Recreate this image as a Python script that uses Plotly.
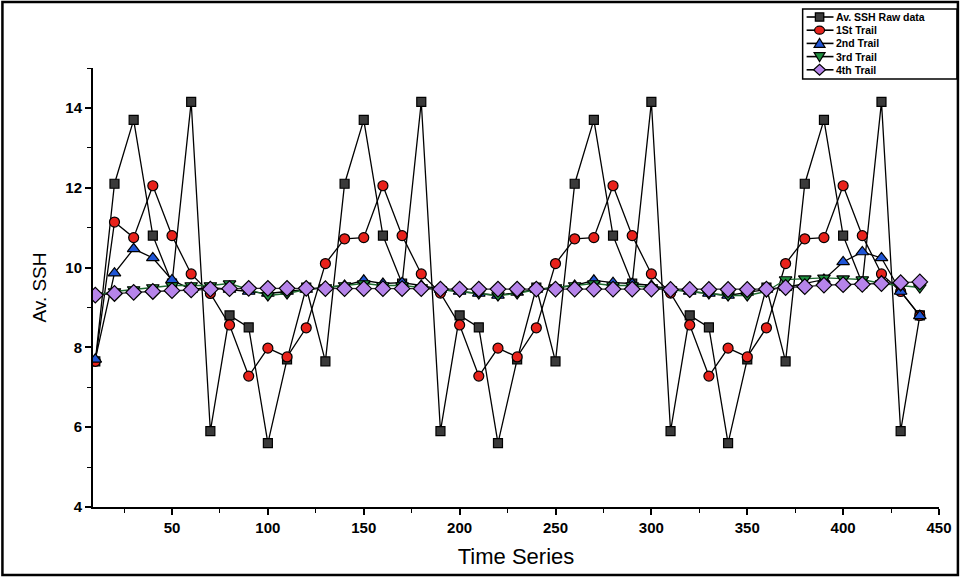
import plotly.graph_objects as go

time_series = [10, 20, 30, 40, 50, 60, 70, 80, 90, 100, 110, 120,
               130, 140, 150, 160, 170, 180, 190, 200, 210, 220, 230, 240,
               250, 260, 270, 280, 290, 300, 310, 320, 330, 340, 350, 360,
               370, 380, 390, 400, 410, 420, 430, 440]

raw_data = [7.65, 12.1, 13.7, 10.8, 9.6, 14.15, 5.9, 8.8, 8.5, 5.6, 7.7, 9.5,
            7.65, 12.1, 13.7, 10.8, 9.6, 14.15, 5.9, 8.8, 8.5, 5.6, 7.7, 9.5,
            7.65, 12.1, 13.7, 10.8, 9.6, 14.15, 5.9, 8.8, 8.5, 5.6, 7.7, 9.5,
            7.65, 12.1, 13.7, 10.8, 9.6, 14.15, 5.9, 8.8]

trail_1 = [7.65, 11.14, 10.75, 12.05, 10.8, 9.84, 9.35, 8.56, 7.28, 7.98, 7.76, 8.49,
           10.1, 10.72, 10.75, 12.05, 10.8, 9.84, 9.36, 8.56, 7.28, 7.98, 7.76, 8.49,
           10.1, 10.72, 10.75, 12.05, 10.8, 9.84, 9.36, 8.56, 7.28, 7.98, 7.76, 8.49,
           10.1, 10.72, 10.75, 12.05, 10.8, 9.84, 9.4, 8.8]

trail_2 = [7.7, 9.86, 10.47, 10.24, 9.69, 9.45, 9.5, 9.45, 9.4, 9.35, 9.4, 9.45,
           9.5, 9.55, 9.68, 9.6, 9.62, 9.55, 9.45, 9.4, 9.35, 9.3, 9.38, 9.45,
           9.5, 9.55, 9.68, 9.62, 9.6, 9.55, 9.45, 9.4, 9.35, 9.3, 9.38, 9.45,
           9.5, 9.6, 9.7, 10.14, 10.39, 10.24, 9.4, 8.79]

trail_3 = [9.3, 9.4, 9.45, 9.5, 9.55, 9.55, 9.55, 9.6, 9.45, 9.3, 9.35, 9.45,
           9.5, 9.55, 9.6, 9.55, 9.55, 9.5, 9.45, 9.4, 9.35, 9.3, 9.35, 9.45,
           9.5, 9.55, 9.6, 9.55, 9.55, 9.5, 9.45, 9.4, 9.35, 9.3, 9.3, 9.4,
           9.7, 9.72, 9.74, 9.72, 9.7, 9.6, 9.55, 9.5]

trail_4 = [9.31, 9.35, 9.38, 9.4, 9.42, 9.44, 9.46, 9.47, 9.48, 9.48, 9.48, 9.48,
           9.47, 9.47, 9.47, 9.47, 9.47, 9.47, 9.46, 9.46, 9.46, 9.46, 9.46, 9.46,
           9.46, 9.46, 9.46, 9.46, 9.46, 9.46, 9.45, 9.45, 9.45, 9.45, 9.45, 9.46,
           9.5, 9.52, 9.56, 9.57, 9.58, 9.6, 9.62, 9.64]

series_names = ["Av. SSH Raw data", "1St Trail", "2nd Trail", "3rd Trail", "4th Trail"]

FONT = "Liberation Sans, Arial, sans-serif"

styles = [
    (raw_data, "square", 9, "#3a3a3a", "#000000"),
    (trail_1, "circle", 10, "#e8221b", "#000000"),
    (trail_2, "triangle-up", 11, "#1f55d6", "#000000"),
    (trail_3, "triangle-down", 11, "#1e8f3e", "#1e6b30"),
    (trail_4, "diamond", 12, "#b684ea", "#2a2a2a"),
]

fig = go.Figure()
for name, (vals, sym, sz, fill, line_col) in zip(series_names, styles):
    fig.add_trace(go.Scatter(
        x=time_series, y=vals, name=name, mode="lines+markers",
        line=dict(color=line_col, width=1.3),
        marker=dict(symbol=sym, size=sz, color=fill,
                    line=dict(color="#000000", width=1.2)),
        showlegend=False,
    ))

L, R, T, B = 93, 21, 68, 70
W, H = 964, 577
pw, ph = W - L - R, H - T - B


def px(xp):
    return (xp - L) / pw


def py(yp):
    return (H - B - yp) / ph


shapes = [dict(
    type="rect", xref="paper", yref="paper",
    x0=px(2), x1=px(962), y0=py(575), y1=py(2),
    line=dict(color="black", width=2.5), fillcolor="rgba(0,0,0,0)", layer="below",
)]

# legend box (drawn as layout decoration, like the original boxed key)
shapes.append(dict(type="rect", xref="paper", yref="paper",
                   x0=px(806), x1=px(961), y0=py(79), y1=py(9),
                   line=dict(color="black", width=1.5), fillcolor="white", layer="above"))

annotations = []
row_y = [17, 30.2, 43.4, 56.6, 69.8]
cx = 823
for i, (name, (vals, sym, sz, fill, line_col)) in enumerate(zip(series_names, styles)):
    yy = row_y[i]
    shapes.append(dict(type="line", xref="paper", yref="paper",
                       x0=px(810), x1=px(837), y0=py(yy), y1=py(yy),
                       line=dict(color="black", width=1.6), layer="above"))
    r = 4.2
    if sym == "square":
        shapes.append(dict(type="rect", xref="paper", yref="paper",
                           x0=px(cx - r), x1=px(cx + r), y0=py(yy + r), y1=py(yy - r),
                           line=dict(color="black", width=1.3), fillcolor=fill, layer="above"))
    elif sym == "circle":
        shapes.append(dict(type="circle", xref="paper", yref="paper",
                           x0=px(cx - 5), x1=px(cx + 5), y0=py(yy + 4), y1=py(yy - 4),
                           line=dict(color="black", width=1.2), fillcolor=fill, layer="above"))
    else:
        if sym == "triangle-up":
            pts = [(cx - 5.5, yy + 4), (cx + 5.5, yy + 4), (cx, yy - 5)]
        elif sym == "triangle-down":
            pts = [(cx - 5.5, yy - 4), (cx + 5.5, yy - 4), (cx, yy + 5)]
        else:
            pts = [(cx - 6, yy), (cx, yy - 5.5), (cx + 6, yy), (cx, yy + 5.5)]
        path = "M " + " L ".join(f"{px(a)},{py(b)}" for a, b in pts) + " Z"
        shapes.append(dict(type="path", xref="paper", yref="paper", path=path,
                           line=dict(color="black", width=1.2), fillcolor=fill, layer="above"))
    annotations.append(dict(
        xref="paper", yref="paper", x=px(839), y=py(yy),
        xanchor="left", yanchor="middle", showarrow=False,
        text=f"<b>{name}</b>", borderpad=0,
        font=dict(family=FONT, size=10.5, color="black"),
    ))

fig.update_layout(
    width=W, height=H,
    margin=dict(l=L, r=R, t=T, b=B),
    paper_bgcolor="white", plot_bgcolor="white",
    font=dict(family=FONT, color="black"),
    showlegend=False,
    xaxis=dict(
        range=[8.8, 450], tick0=0, dtick=50,
        showgrid=False, zeroline=False,
        showline=True, linecolor="black", linewidth=2,
        ticks="outside", ticklen=6, tickwidth=1.5, tickcolor="black",
        tickfont=dict(family=FONT, size=15, color="black", weight="bold"),
        minor=dict(dtick=25, tick0=0, ticks="outside", ticklen=4, tickcolor="black", tickwidth=1.2),
        title=dict(text="Time Series", font=dict(family=FONT, size=22, color="black"), standoff=14),
    ),
    yaxis=dict(
        range=[4, 15], tick0=4, dtick=2,
        showgrid=False, zeroline=False,
        showline=True, linecolor="black", linewidth=2,
        ticks="outside", ticklen=6, tickwidth=1.5, tickcolor="black",
        tickfont=dict(family=FONT, size=15, color="black", weight="bold"),
        minor=dict(dtick=1, tick0=4, ticks="outside", ticklen=4, tickcolor="black", tickwidth=1.2),
        title=dict(text="Av. SSH", font=dict(family=FONT, size=19, color="black"), standoff=14),
    ),
    shapes=shapes,
    annotations=annotations,
)

fig.write_html("out.html")
